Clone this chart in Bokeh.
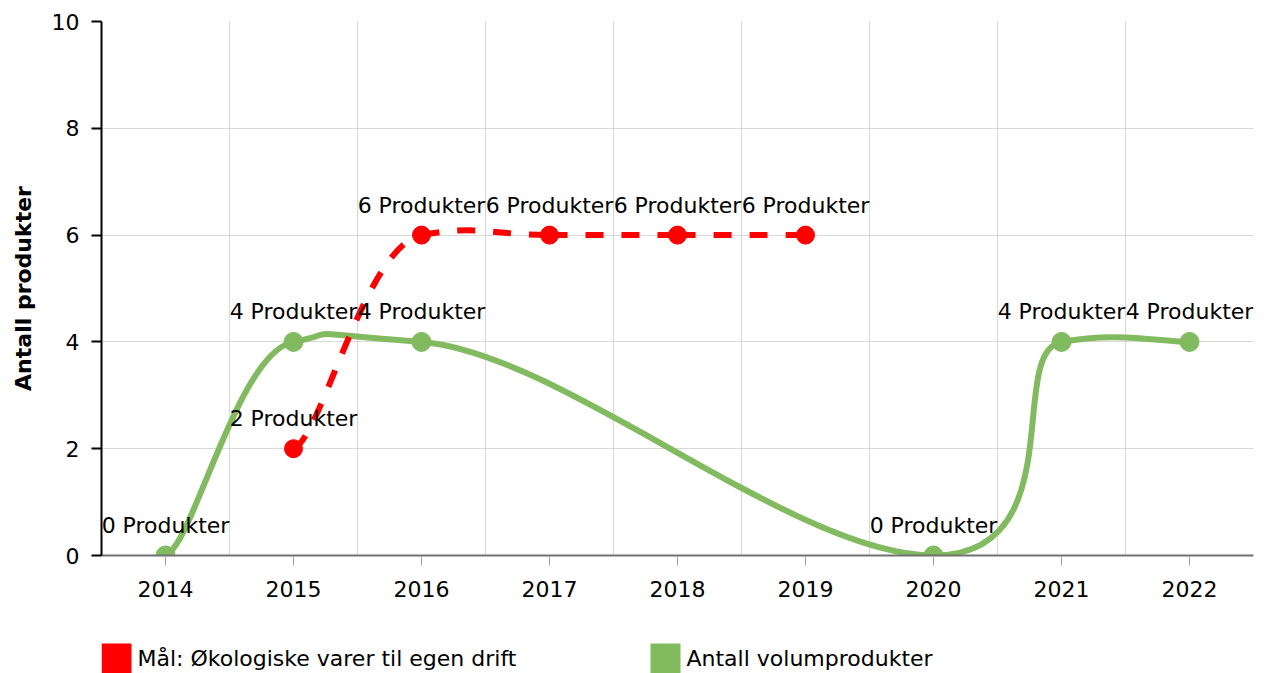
from bokeh.plotting import figure
from bokeh.layouts import column
from bokeh.models import ColumnDataSource, FixedTicker, Range1d
from bokeh.core.properties import value
from bokeh.embed import file_html
from bokeh.resources import INLINE

# ---- data ----
years = [2014, 2015, 2016, 2017, 2018, 2019, 2020, 2021, 2022]
goal_years = [2015, 2016, 2017, 2018, 2019]
goal_values = [2, 6, 6, 6, 6]
vol_years = [2014, 2015, 2016, 2020, 2021, 2022]
vol_values = [0, 4, 4, 0, 4, 4]
y_ticks = [0, 2, 4, 6, 8, 10]
label_unit = "Produkter"
series_names = ["Mål: Økologiske varer til egen drift", "Antall volumprodukter"]
y_title = "Antall produkter"

RED = "#ff0000"
GREEN = "#82ba60"
FONT = "DejaVu Sans"
TX, TY = 0.22, 0.05

W = 1267
MAIN_H = 620
LEG_H = 53
BL, BR = 101, 14


def spline_segments(xs, ys, tx, ty):
    n = len(xs)
    seg = dict(x0=[], y0=[], x1=[], y1=[], cx0=[], cy0=[], cx1=[], cy1=[])
    for i in range(n - 1):
        i0 = max(i - 1, 0)
        i3 = min(i + 2, n - 1)
        seg["x0"].append(xs[i]); seg["y0"].append(ys[i])
        seg["x1"].append(xs[i + 1]); seg["y1"].append(ys[i + 1])
        seg["cx0"].append(xs[i] + tx * (xs[i + 1] - xs[i0]))
        seg["cy0"].append(ys[i] + ty * (ys[i + 1] - ys[i0]))
        seg["cx1"].append(xs[i + 1] - tx * (xs[i3] - xs[i]))
        seg["cy1"].append(ys[i + 1] - ty * (ys[i3] - ys[i]))
    return ColumnDataSource(seg)


p = figure(width=W, height=MAIN_H,
           x_range=Range1d(years[0] - 0.5, years[-1] + 0.5),
           y_range=Range1d(y_ticks[0], y_ticks[-1]),
           output_backend="svg", toolbar_location=None,
           min_border_left=BL, min_border_right=BR,
           min_border_top=21, min_border_bottom=MAIN_H - 555)
p.outline_line_color = None
p.background_fill_color = "white"

# grid
p.xgrid.ticker = FixedTicker(ticks=[y + 0.5 for y in years])
p.ygrid.ticker = FixedTicker(ticks=y_ticks)
p.xgrid.grid_line_color = "#d8d8d8"
p.ygrid.grid_line_color = "#d8d8d8"
p.xgrid.grid_line_width = 1
p.ygrid.grid_line_width = 1

# axes
p.xaxis.ticker = FixedTicker(ticks=years)
p.yaxis.ticker = FixedTicker(ticks=y_ticks)
for ax in (p.xaxis, p.yaxis):
    ax.major_label_text_font = FONT
    ax.major_label_text_font_size = "22px"
    ax.major_label_text_color = "#000000"
    ax.minor_tick_line_color = None
    ax.major_tick_in = 0
    ax.major_tick_out = 10
p.yaxis.major_label_standoff = 12
p.xaxis.major_label_standoff = 15
p.xaxis.axis_line_color = "#707070"
p.xaxis.axis_line_width = 2
p.xaxis.major_tick_line_color = "#a0a0a0"
p.xaxis.major_tick_line_width = 1
p.yaxis.axis_line_color = "#000000"
p.yaxis.axis_line_width = 2
p.yaxis.major_tick_line_color = "#000000"
p.yaxis.major_tick_line_width = 2
p.yaxis.axis_label = y_title
p.yaxis.axis_label_text_font = FONT
p.yaxis.axis_label_text_font_style = "bold"
p.yaxis.axis_label_text_font_size = "22px"
p.yaxis.axis_label_text_color = "#000000"
p.yaxis.axis_label_standoff = 13

# green series
gseg = spline_segments(vol_years, vol_values, TX, TY)
p.bezier(x0="x0", y0="y0", x1="x1", y1="y1", cx0="cx0", cy0="cy0", cx1="cx1", cy1="cy1",
         source=gseg, line_color=GREEN, line_width=6)
p.scatter(vol_years, vol_values, size=19, color=GREEN)

# red series
rseg = spline_segments(goal_years, goal_values, TX, TY)
p.bezier(x0="x0", y0="y0", x1="x1", y1="y1", cx0="cx0", cy0="cy0", cx1="cx1", cy1="cy1",
         source=rseg, line_color=RED, line_width=6, line_dash="18 18")
p.scatter(goal_years, goal_values, size=18, color=RED)

# data labels
for xs, ys in ((vol_years, vol_values), (goal_years, goal_values)):
    p.text(x=xs, y=ys, text=[f"{v} {label_unit}" for v in ys],
           text_font=value(FONT), text_font_size=value("22px"),
           text_color="#000000", text_align="center", text_baseline="alphabetic",
           y_offset=-30)

# ---- legend strip (screen-pixel coordinates) ----
leg = figure(width=W, height=LEG_H, x_range=Range1d(BL, W - BR), y_range=Range1d(0, LEG_H),
             output_backend="svg", toolbar_location=None,
             x_axis_location=None, y_axis_location=None,
             min_border=0, min_border_left=BL, min_border_right=BR,
             min_border_top=0, min_border_bottom=0)
leg.outline_line_color = None
leg.xgrid.visible = False
leg.ygrid.visible = False

SW = 30
sw_left = [101, 650]
leg.quad(left=sw_left, right=[x + SW for x in sw_left], bottom=[0, 0], top=[SW, SW],
         fill_color=[RED, GREEN], line_color=None)
leg.text(x=[x + SW + 6 for x in sw_left], y=[SW / 2, SW / 2], text=series_names,
         text_font=value(FONT), text_font_size=value("22px"), text_color="#000000",
         text_align="left", text_baseline="middle")

open("out.html", "w").write(file_html(column(p, leg, spacing=0), INLINE))
